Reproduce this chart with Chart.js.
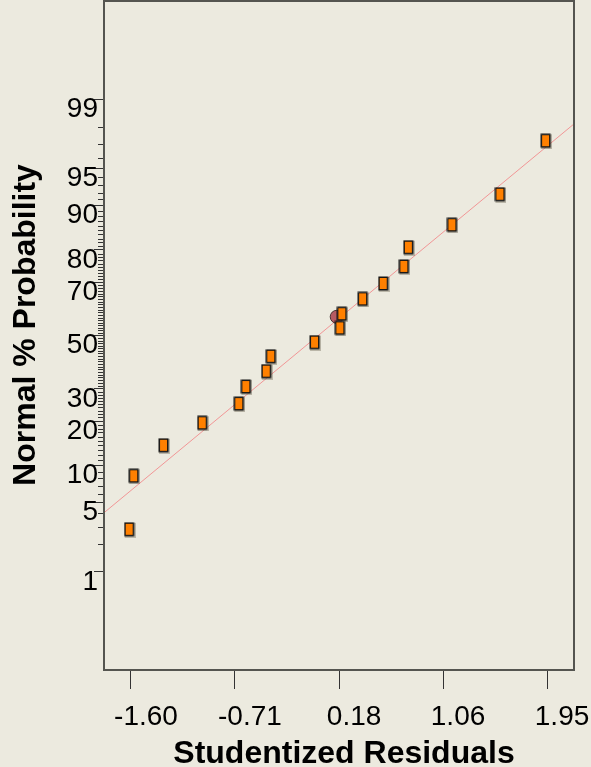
<!DOCTYPE html>
<html>
<head>
<meta charset="utf-8">
<title>Normal Plot of Residuals</title>
<script src="https://cdn.jsdelivr.net/npm/chart.js@4.4.1/dist/chart.umd.min.js"></script>
<style>
  html, body { margin: 0; padding: 0; background: #ECEADF; }
  #wrap { width: 591px; height: 767px; }
</style>
</head>
<body>
<div id="wrap"><canvas id="plot" width="591" height="767"></canvas></div>
<script>
// Studentized residuals (sorted) and their normal plotting positions, in percent
const residuals  = [-1.609, -1.570, -1.316, -0.986, -0.674, -0.614, -0.440, -0.401, -0.028,
                     0.188,  0.205,  0.382,  0.558,  0.734,  0.772,  1.144,  1.553,  1.943];
const normalPct  = [2.8, 8.3, 13.9, 19.4, 25.0, 30.6, 36.1, 41.7, 47.2,
                    52.8, 58.3, 63.9, 69.4, 75.0, 80.6, 86.1, 91.7, 97.2];

// Highlighted run (round marker)
const highlightX   = [0.157];
const highlightPct = [57.3];

// Reference line endpoints (residual, percent)
const fitLineX   = [-1.828, 2.181];
const fitLinePct = [4.06, 98.13];

// Axes
const xTitle      = 'Studentized Residuals';
const yTitle      = 'Normal % Probability';
const xTickValues = [-1.598, -0.711, 0.177, 1.064, 1.951];
const xTickLabels = ['-1.60', '-0.71', '0.18', '1.06', '1.95'];
const xRange      = [-1.828, 2.181];
const yMajorTicks = [1, 5, 10, 20, 30, 50, 70, 80, 90, 95, 99];
const yRange      = [0.05, 99.95];

// Minor ticks: every whole percent that has no labelled tick
const yMinorTicks = [];
for (let p = 2; p <= 98; p++) if (!yMajorTicks.includes(p)) yMinorTicks.push(p);

// ---- normal distribution helpers ----
function probit(p) {
  const a = [-3.969683028665376e+01, 2.209460984245205e+02, -2.759285104469687e+02,
              1.383577518672690e+02, -3.066479806614716e+01, 2.506628277459239e+00];
  const b = [-5.447609879822406e+01, 1.615858368580409e+02, -1.556989798598866e+02,
              6.680131188771972e+01, -1.328068155288572e+01];
  const c = [-7.784894002430293e-03, -3.223964580411365e-01, -2.400758277161838e+00,
             -2.549732539343734e+00, 4.374664141464968e+00, 2.938163982698783e+00];
  const d = [7.784695709041462e-03, 3.224671290700398e-01, 2.445134137142996e+00,
             3.754408661907416e+00];
  const pl = 0.02425, ph = 1 - pl;
  if (p < pl) {
    const q = Math.sqrt(-2 * Math.log(p));
    return (((((c[0]*q+c[1])*q+c[2])*q+c[3])*q+c[4])*q+c[5]) / ((((d[0]*q+d[1])*q+d[2])*q+d[3])*q+1);
  }
  if (p <= ph) {
    const q = p - 0.5, r = q * q;
    return (((((a[0]*r+a[1])*r+a[2])*r+a[3])*r+a[4])*r+a[5])*q / (((((b[0]*r+b[1])*r+b[2])*r+b[3])*r+b[4])*r+1);
  }
  const q = Math.sqrt(-2 * Math.log(1 - p));
  return -(((((c[0]*q+c[1])*q+c[2])*q+c[3])*q+c[4])*q+c[5]) / ((((d[0]*q+d[1])*q+d[2])*q+d[3])*q+1);
}
function normCdf(z) {
  const t = 1 / (1 + 0.3275911 * Math.abs(z) / Math.SQRT2);
  const y = 1 - (((((1.061405429*t - 1.453152027)*t) + 1.421413741)*t - 0.284496736)*t + 0.254829592)*t * Math.exp(-z*z/2);
  return z >= 0 ? 0.5 * (1 + y) : 0.5 * (1 - y);
}

// ---- normal probability axis (values in percent) ----
class ProbabilityScale extends Chart.Scale {
  determineDataLimits() {
    this.min = this.options.min;
    this.max = this.options.max;
  }
  buildTicks() {
    return yMajorTicks.map(v => ({ value: v }));
  }
  configure() {
    super.configure();
    this._zMin = probit(this.min / 100);
    this._zMax = probit(this.max / 100);
  }
  getLabelForValue(value) { return String(value); }
  getPixelForValue(value) {
    if (value === null || isNaN(value)) return NaN;
    const z = probit(value / 100);
    return this.getPixelForDecimal((z - this._zMin) / (this._zMax - this._zMin));
  }
  getValueForPixel(pixel) {
    const z = this._zMin + this.getDecimalForPixel(pixel) * (this._zMax - this._zMin);
    return 100 * normCdf(z);
  }
}
ProbabilityScale.id = 'probability';
ProbabilityScale.defaults = { ticks: { callback: v => String(v) } };
Chart.register(ProbabilityScale);

// Orange rectangular marker with a soft drop shadow
function makeRectMarker() {
  const c = document.createElement('canvas');
  c.width = 12; c.height = 16;
  const g = c.getContext('2d');
  g.fillStyle = 'rgba(95, 85, 65, 0.35)';
  g.fillRect(1, 1, 11, 15);
  g.fillStyle = '#FF8000';
  g.fillRect(1.5, 1.5, 8, 12);
  g.strokeStyle = '#141414';
  g.lineWidth = 1.5;
  g.strokeRect(1.25, 1.25, 8.5, 12.5);
  return c;
}

const FONT = "'Liberation Sans', Arial, Helvetica, sans-serif";

const backgroundPlugin = {
  id: 'paperBackground',
  beforeDraw(chart) {
    const ctx = chart.ctx;
    ctx.save();
    ctx.fillStyle = '#ECEADF';
    ctx.fillRect(0, 0, chart.width, chart.height);
    ctx.restore();
  }
};

// Frame, minor ticks and axis titles
const framePlugin = {
  id: 'plotFrame',
  afterDraw(chart) {
    const { ctx, chartArea: a, scales } = chart;
    const y = scales.y;
    ctx.save();
    ctx.strokeStyle = '#333333';
    ctx.lineWidth = 1;
    ctx.beginPath();
    yMinorTicks.forEach(p => {
      const py = Math.round(y.getPixelForValue(p)) + 0.5;
      ctx.moveTo(a.left - 6, py);
      ctx.lineTo(a.left, py);
    });
    ctx.stroke();

    ctx.strokeStyle = '#555550';
    ctx.lineWidth = 2;
    ctx.strokeRect(a.left, a.top, a.right - a.left, a.bottom - a.top);

    ctx.fillStyle = '#000000';
    ctx.font = 'bold 32px ' + FONT;
    ctx.textAlign = 'center';
    ctx.textBaseline = 'middle';
    ctx.fillText(xTitle, (a.left + a.right) / 2 + 5, a.bottom + 84.5);
    ctx.translate(26.5, (a.top + a.bottom) / 2 - 10.5);
    ctx.rotate(-Math.PI / 2);
    ctx.fillText(yTitle, 0, 0);
    ctx.restore();
  }
};

new Chart(document.getElementById('plot'), {
  type: 'scatter',
  data: {
    datasets: [
      {
        label: 'Residuals',
        data: residuals.map((r, i) => ({ x: r, y: normalPct[i] })),
        pointStyle: makeRectMarker(),
        pointRadius: 6,
        order: 0
      },
      {
        label: 'Highlighted',
        data: highlightX.map((r, i) => ({ x: r, y: highlightPct[i] })),
        pointStyle: 'circle',
        pointRadius: 6.5,
        backgroundColor: '#B65A62',
        borderColor: '#4a3434',
        borderWidth: 1,
        order: 1
      },
      {
        label: 'Normal line',
        data: fitLineX.map((r, i) => ({ x: r, y: fitLinePct[i] })),
        showLine: true,
        borderColor: '#F29696',
        borderWidth: 1,
        pointRadius: 0,
        order: 2
      }
    ]
  },
  options: {
    responsive: false,
    animation: false,
    devicePixelRatio: 1,
    layout: { autoPadding: false, padding: { top: 1, right: 17, bottom: 0, left: 0 } },
    plugins: { legend: { display: false }, tooltip: { enabled: false } },
    scales: {
      x: {
        type: 'linear',
        min: xRange[0],
        max: xRange[1],
        afterBuildTicks: s => { s.ticks = xTickValues.map(v => ({ value: v })); },
        afterFit: s => { s.height = 97; s.paddingLeft = 0; s.paddingRight = 0; },
        grid: { drawOnChartArea: false, drawTicks: true, tickLength: 19, tickColor: '#333333', tickWidth: 1 },
        border: { display: false },
        ticks: {
          autoSkip: false,
          maxRotation: 0,
          padding: 11,
          labelOffset: 15,
          color: '#000000',
          font: { family: FONT, size: 28 },
          callback: (v, i) => xTickLabels[i]
        },
        title: { display: false }
      },
      y: {
        type: 'probability',
        min: yRange[0],
        max: yRange[1],
        afterFit: s => { s.width = 104; s.paddingTop = 0; s.paddingBottom = 0; },
        grid: { drawOnChartArea: false, drawTicks: true, tickLength: 10, tickColor: '#333333', tickWidth: 1 },
        border: { display: false },
        ticks: {
          autoSkip: false,
          padding: -4,
          labelOffset: 10,
          color: '#000000',
          font: { family: FONT, size: 28 },
          callback: v => String(v)
        },
        title: { display: false }
      }
    }
  },
  plugins: [backgroundPlugin, framePlugin]
});
</script>
</body>
</html>
